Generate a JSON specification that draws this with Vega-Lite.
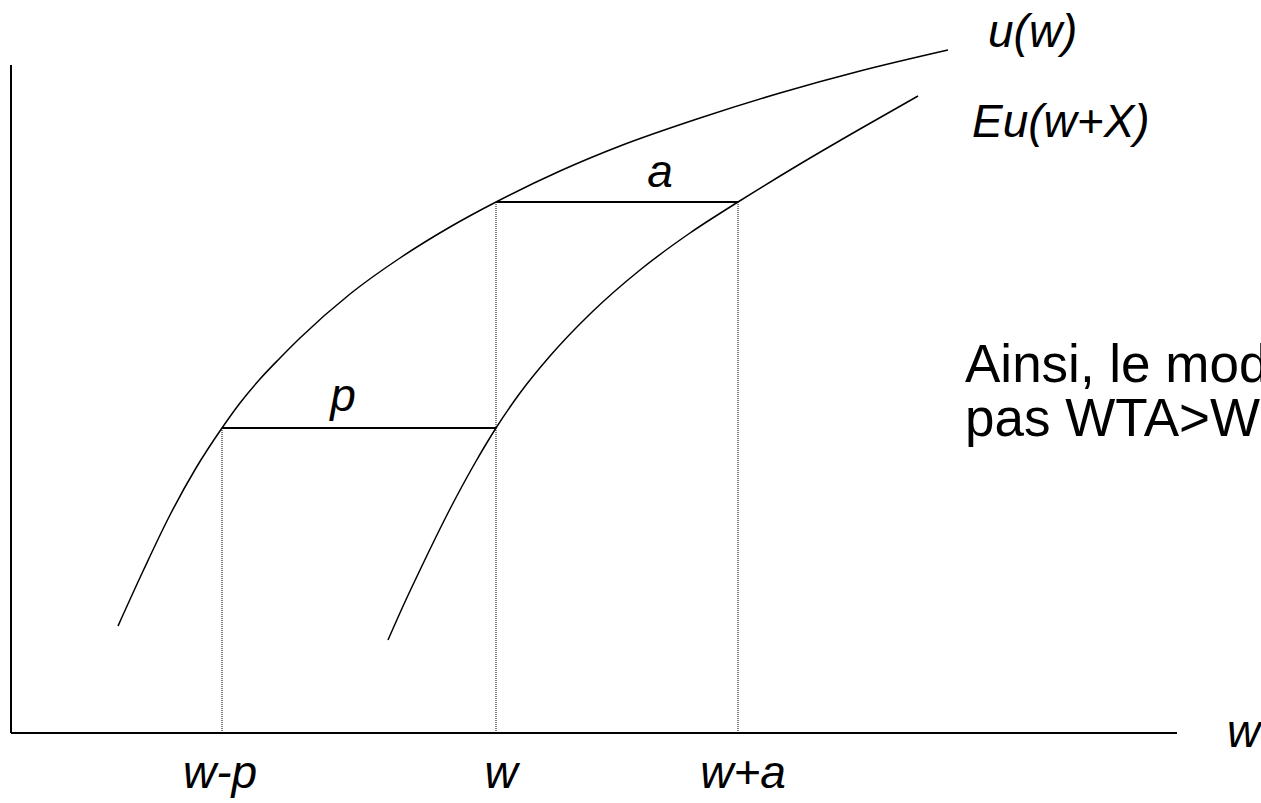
{
  "$schema": "https://vega.github.io/schema/vega-lite/v6.json",
  "width": 1261,
  "height": 803,
  "padding": 0,
  "autosize": {"type": "none"},
  "background": "white",
  "config": {"view": {"stroke": null}},
  "datasets": {
    "axes": [
      {"x": 0, "x2": 0, "y": 0, "y2": 668},
      {"x": 0, "x2": 1166, "y": 0, "y2": 0}
    ],
    "guides": [
      {"x": 211, "y": 0, "y2": 305},
      {"x": 485, "y": 0, "y2": 531},
      {"x": 727, "y": 0, "y2": 531}
    ],
    "segments": [
      {"name": "p", "x": 211, "x2": 485, "y": 305},
      {"name": "a", "x": 485, "x2": 727, "y": 531}
    ],
    "curves": [
      {"curve": "u(w)", "ord": 1, "x": 107, "y": 107},
      {"curve": "u(w)", "ord": 2, "x": 133, "y": 164},
      {"curve": "u(w)", "ord": 3, "x": 159, "y": 218},
      {"curve": "u(w)", "ord": 4, "x": 185, "y": 265},
      {"curve": "u(w)", "ord": 5, "x": 211, "y": 305},
      {"curve": "u(w)", "ord": 6, "x": 229, "y": 330},
      {"curve": "u(w)", "ord": 7, "x": 249, "y": 354},
      {"curve": "u(w)", "ord": 8, "x": 269, "y": 375},
      {"curve": "u(w)", "ord": 9, "x": 289, "y": 395},
      {"curve": "u(w)", "ord": 10, "x": 339, "y": 439},
      {"curve": "u(w)", "ord": 11, "x": 389, "y": 475},
      {"curve": "u(w)", "ord": 12, "x": 439, "y": 506},
      {"curve": "u(w)", "ord": 13, "x": 485, "y": 531},
      {"curve": "u(w)", "ord": 14, "x": 549, "y": 562},
      {"curve": "u(w)", "ord": 15, "x": 609, "y": 587},
      {"curve": "u(w)", "ord": 16, "x": 689, "y": 615},
      {"curve": "u(w)", "ord": 17, "x": 769, "y": 640},
      {"curve": "u(w)", "ord": 18, "x": 849, "y": 662},
      {"curve": "u(w)", "ord": 19, "x": 937, "y": 683},
      {"curve": "Eu(w+X)", "ord": 1, "x": 377, "y": 93},
      {"curve": "Eu(w+X)", "ord": 2, "x": 393, "y": 129},
      {"curve": "Eu(w+X)", "ord": 3, "x": 409, "y": 163},
      {"curve": "Eu(w+X)", "ord": 4, "x": 439, "y": 224},
      {"curve": "Eu(w+X)", "ord": 5, "x": 464, "y": 270},
      {"curve": "Eu(w+X)", "ord": 6, "x": 485, "y": 305},
      {"curve": "Eu(w+X)", "ord": 7, "x": 509, "y": 340},
      {"curve": "Eu(w+X)", "ord": 8, "x": 539, "y": 377},
      {"curve": "Eu(w+X)", "ord": 9, "x": 579, "y": 419},
      {"curve": "Eu(w+X)", "ord": 10, "x": 629, "y": 463},
      {"curve": "Eu(w+X)", "ord": 11, "x": 679, "y": 500},
      {"curve": "Eu(w+X)", "ord": 12, "x": 727, "y": 531},
      {"curve": "Eu(w+X)", "ord": 13, "x": 789, "y": 569},
      {"curve": "Eu(w+X)", "ord": 14, "x": 849, "y": 604},
      {"curve": "Eu(w+X)", "ord": 15, "x": 907, "y": 637}
    ],
    "labelsLeft": [
      {"label": "u(w)", "x": 977, "y": 686},
      {"label": "Eu(w+X)", "x": 961, "y": 596},
      {"label": "w", "x": 1216, "y": -14}
    ],
    "labelsCenter": [
      {"label": "a", "x": 649, "y": 546},
      {"label": "p", "x": 332, "y": 322},
      {"label": "w-p", "x": 209, "y": -55},
      {"label": "w", "x": 490, "y": -55},
      {"label": "w+a", "x": 732, "y": -55}
    ],
    "note": [
      {"label": "Ainsi, le modèle ne prédit", "x": 954, "y": 351},
      {"label": "pas WTA>WTP", "x": 954, "y": 297}
    ]
  },
  "layer": [
    {
      "data": {"name": "axes"},
      "mark": {"type": "rule", "color": "black", "strokeWidth": 2},
      "encoding": {
        "x": {"field": "x", "type": "quantitative", "scale": {"domain": [-11, 1250], "nice": false, "zero": false}, "axis": null},
        "x2": {"field": "x2"},
        "y": {"field": "y", "type": "quantitative", "scale": {"domain": [-70, 733], "nice": false, "zero": false}, "axis": null},
        "y2": {"field": "y2"}
      }
    },
    {
      "data": {"name": "guides"},
      "mark": {"type": "rule", "color": "black", "strokeWidth": 1, "strokeDash": [1, 1]},
      "encoding": {
        "x": {"field": "x", "type": "quantitative"},
        "y": {"field": "y", "type": "quantitative"},
        "y2": {"field": "y2"}
      }
    },
    {
      "data": {"name": "segments"},
      "mark": {"type": "rule", "color": "black", "strokeWidth": 2},
      "encoding": {
        "x": {"field": "x", "type": "quantitative"},
        "x2": {"field": "x2"},
        "y": {"field": "y", "type": "quantitative"}
      }
    },
    {
      "data": {"name": "curves"},
      "mark": {"type": "line", "color": "black", "strokeWidth": 1.5, "interpolate": "monotone"},
      "encoding": {
        "x": {"field": "x", "type": "quantitative"},
        "y": {"field": "y", "type": "quantitative"},
        "detail": {"field": "curve", "type": "nominal"},
        "order": {"field": "ord", "type": "quantitative"}
      }
    },
    {
      "data": {"name": "labelsLeft"},
      "mark": {"type": "text", "align": "left", "baseline": "alphabetic", "font": "Liberation Sans", "fontStyle": "italic", "fontSize": 46, "color": "black"},
      "encoding": {
        "x": {"field": "x", "type": "quantitative"},
        "y": {"field": "y", "type": "quantitative"},
        "text": {"field": "label", "type": "nominal"}
      }
    },
    {
      "data": {"name": "labelsCenter"},
      "mark": {"type": "text", "align": "center", "baseline": "alphabetic", "font": "Liberation Sans", "fontStyle": "italic", "fontSize": 46, "color": "black"},
      "encoding": {
        "x": {"field": "x", "type": "quantitative"},
        "y": {"field": "y", "type": "quantitative"},
        "text": {"field": "label", "type": "nominal"}
      }
    },
    {
      "data": {"name": "note"},
      "mark": {"type": "text", "align": "left", "baseline": "alphabetic", "font": "Liberation Sans", "fontSize": 53, "color": "black", "clip": true},
      "encoding": {
        "x": {"field": "x", "type": "quantitative"},
        "y": {"field": "y", "type": "quantitative"},
        "text": {"field": "label", "type": "nominal"}
      }
    }
  ]
}
